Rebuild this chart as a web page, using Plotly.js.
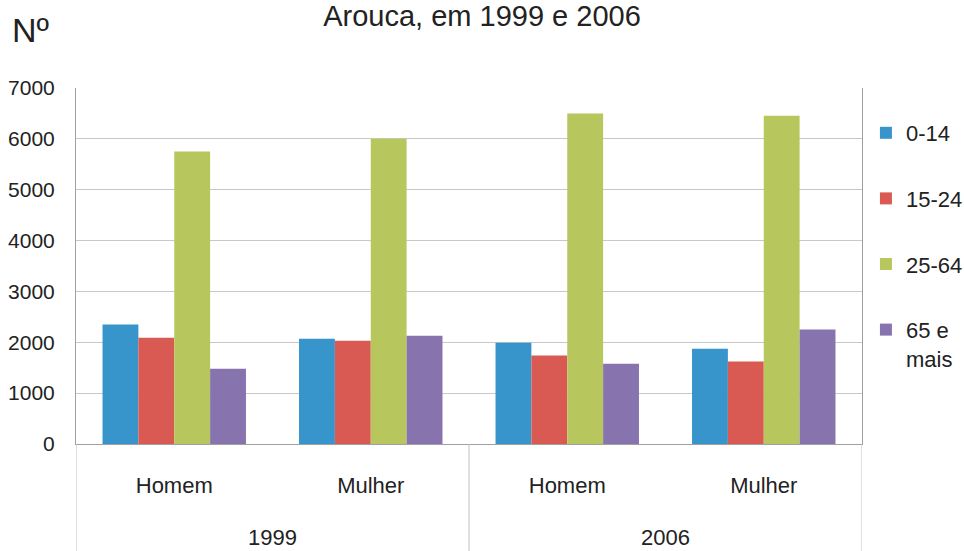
<!DOCTYPE html>
<html>
<head>
<meta charset="utf-8">
<script src="https://cdn.plot.ly/plotly-3.0.1.min.js"></script>
<style>html,body{margin:0;padding:0;background:#fff;}#chart{width:964px;height:551px;}</style>
</head>
<body>
<div id="chart"></div>
<script>
// Data
const years = ["1999", "1999", "2006", "2006"];
const sexes = ["Homem", "Mulher", "Homem", "Mulher"];
const yearGroups = ["1999", "2006"];
const seriesNames = ["0-14", "15-24", "25-64", "65 e<br>mais"];
const age0_14 = [2350, 2070, 1990, 1875];
const age15_24 = [2090, 2030, 1740, 1620];
const age25_64 = [5750, 6000, 6500, 6455];
const age65plus = [1480, 2130, 1580, 2250];
const colors = ["#3795CC", "#D85A53", "#B7C75D", "#8774AF"];
const yTicks = [0, 1000, 2000, 3000, 4000, 5000, 6000, 7000];

const FONT = "'Liberation Sans', Arial, sans-serif";

// unique category keys (year + sex); the axis shows only the sex label
const catKeys = years.map((y, i) => y + " " + sexes[i]);
// centre of each year group and the group boundaries, in category index units
const yearCentres = yearGroups.map(g => {
  const idx = years.map((y, i) => y === g ? i : -1).filter(i => i >= 0);
  return (idx[0] + idx[idx.length - 1]) / 2;
});
const boundaries = [-0.5];
yearGroups.forEach(g => { boundaries.push(years.lastIndexOf(g) + 0.5); });

const values = [age0_14, age15_24, age25_64, age65plus];
const traces = values.map((v, i) => ({
  type: "bar",
  name: seriesNames[i],
  x: catKeys,
  y: v,
  marker: {color: colors[i], line: {width: 0}},
  legendgroup: "g" + i,
  hoverinfo: "y"
}));

const H = 551, T = 88, B = 30, AXIS_Y = 444;
const plotH = H - T - B;
const yDomLow = (H - B - AXIS_Y) / plotH;

const layout = {
  width: 964, height: H,
  margin: {l: 76, r: 102, t: T, b: B, autoexpand: false},
  paper_bgcolor: "#fff", plot_bgcolor: "#fff",
  font: {family: FONT, size: 22, color: "#222"},
  title: {
    text: "Arouca, em 1999 e 2006",
    font: {family: FONT, size: 29, color: "#222"},
    xref: "container", x: 0.5, xanchor: "center",
    yref: "container", y: 0.972, yanchor: "middle"
  },
  barmode: "group",
  bargap: 0.27,
  bargroupgap: 0,
  showlegend: true,
  legend: {
    x: 1.005, xanchor: "left", xref: "paper",
    y: 1 - 24 / plotH, yanchor: "top",
    font: {family: FONT, size: 22, color: "#222"},
    traceorder: "grouped",
    tracegroupgap: 34,
    valign: "top",
    itemwidth: 30,
    bgcolor: "rgba(0,0,0,0)"
  },
  xaxis: {
    type: "category",
    range: [-0.5, catKeys.length - 0.5],
    tickvals: catKeys,
    ticktext: sexes,
    showline: true, linecolor: "#A0A0A0", linewidth: 1,
    showgrid: false, zeroline: false,
    ticks: "",
    ticklabelstandoff: 22,
    tickfont: {family: FONT, size: 22, color: "#222"},
    fixedrange: true
  },
  xaxis2: {
    overlaying: "x",
    anchor: "free", position: 0, side: "bottom",
    range: [-0.5, catKeys.length - 0.5],
    tickvals: yearCentres,
    ticktext: yearGroups,
    showline: false, showgrid: false, zeroline: false,
    ticks: "",
    ticklabelstandoff: 1,
    tickfont: {family: FONT, size: 22, color: "#222"},
    fixedrange: true
  },
  yaxis: {
    domain: [yDomLow, 1],
    range: [0, 7000],
    tickvals: yTicks,
    ticktext: yTicks.map(String),
    showline: true, linecolor: "#A0A0A0", linewidth: 1, mirror: true,
    gridcolor: "#C8C8C8", gridwidth: 1,
    zeroline: false,
    ticks: "",
    ticklabelstandoff: 16,
    tickfont: {family: FONT, size: 21, color: "#222"},
    fixedrange: true
  },
  shapes: boundaries.map(b => ({
    type: "line", xref: "x2", yref: "paper", x0: b, x1: b, y0: yDomLow, y1: -B / plotH - 0.01,
    line: {color: "#C0C0C0", width: 1}
  })),
  annotations: [
    {text: "Nº", xref: "paper", yref: "paper", x: -0.0585, y: (H - B - 30) / plotH, xanchor: "center", yanchor: "middle",
     showarrow: false, font: {family: FONT, size: 34, color: "#222"}}
  ]
};

Plotly.newPlot("chart", traces, layout, {displayModeBar: false, staticPlot: true});
</script>
</body>
</html>
